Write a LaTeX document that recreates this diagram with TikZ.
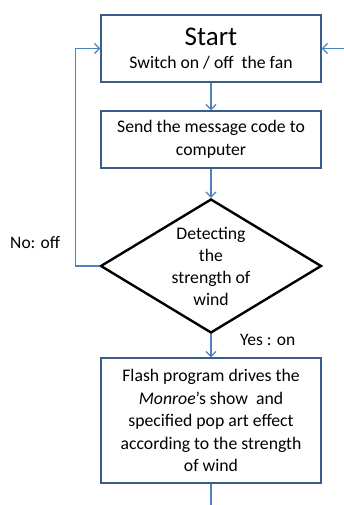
\documentclass[tikz,border=0pt]{standalone}
\usepackage{fontspec}
\setmainfont{Carlito}
\usetikzlibrary{arrows.meta,shapes.geometric}
\definecolor{boxblue}{HTML}{385D8A}
\definecolor{arrblue}{HTML}{4F81BD}
\begin{document}
\begin{tikzpicture}[x=1pt,y=-1pt,
  box/.style={draw=boxblue,line width=1.4pt,minimum width=220pt,inner sep=0pt,align=center,font=\fontsize{17.7}{22.5}\selectfont},
  arr/.style={draw=arrblue,line width=1.2pt,-{Straight Barb[length=5pt,width=10pt]}},
  lin/.style={draw=arrblue,line width=1.2pt},
  lbl/.style={font=\fontsize{17.5}{20}\selectfont,inner sep=0pt}]
\useasboundingbox (0,0) rectangle (344,505);
\node[box,minimum height=67pt] (start) at (211,48.5) {{\fontsize{27}{27}\selectfont Start}\\[0pt]Switch on / off\ \ the fan};
\node[box,minimum height=57pt] (send) at (211,139.5) {Send the message code to\\computer};
\node[diamond,draw=black,line width=2.4pt,minimum width=221pt,minimum height=134pt,inner sep=0pt] (dec) at (211,266) {};
\node[align=center,inner sep=0pt,font=\fontsize{17.7}{22}\selectfont] (dect) at (211,266) {Detecting\\the\\strength of\\wind};
\node[box,minimum height=125pt] (flash) at (211,420.5) {Flash program drives the\\\textit{Monroe}’s show\ \ and\\specified pop art effect\\according to the strength\\of wind};
\coordinate (rin) at (344,48.5);
\coordinate (bot) at (211,505);
\draw[arr] (start) -- (send);
\draw[arr] (send) -- (dec.north);
\draw[arr] (dec.south) -- (flash);
\draw[arr] (dec.west) -- ++(-24,0) |- (start.west);
\draw[arr] (rin) -- (start.east);
\draw[lin] (flash) -- (bot);
\node[lbl,anchor=west] (no) at (10,243) {No: off};
\node[lbl,anchor=west] (yes) at (240,340) {Yes : on};
\end{tikzpicture}
\end{document}
